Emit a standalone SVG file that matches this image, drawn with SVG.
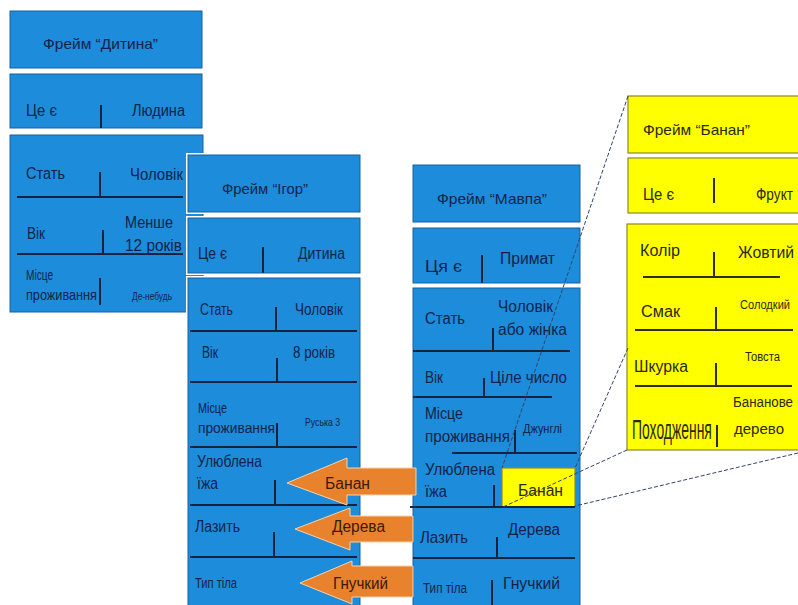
<svg xmlns="http://www.w3.org/2000/svg" width="798" height="605" viewBox="0 0 798 605">
  <defs>
    <style>
      .halo { fill: none; stroke: #ffffff; stroke-width: 4; }
      .box { fill: #1c8cdb; stroke: #1760a0; stroke-width: 1; }
      .ybox { fill: #ffff00; stroke: #8a8a2a; stroke-width: 1.2; }
      .div { stroke: #15233f; stroke-width: 2; fill: none; }
      .ydiv { stroke: #2e2e12; stroke-width: 2; fill: none; }
      text { font-family: "Liberation Sans Narrow", "Liberation Sans", Arial, sans-serif; font-size: 16px; }
      .t { fill: #13234a; }
      .ty { fill: #2a2a10; }
      .ta { fill: #3a1a08; }
      .ttl { font-size: 15px; }
      .md { font-size: 14px; }
      .sm { font-size: 11px; }
      .sm2 { font-size: 12px; }
      .big { font-size: 28px; }
      .arrow { fill: #e8822c; stroke: #f6d2ac; stroke-width: 1; }
      .link { stroke: #34446a; stroke-width: 1; stroke-dasharray: 4 2; fill: none; }
    </style>
  </defs>
  <rect width="798" height="605" fill="#ffffff"/>

  <!-- Frame "Дитина" -->
  <g id="frame-dytyna">
    <rect class="box" x="10" y="11" width="192" height="57"/>
    <rect class="box" x="10" y="74" width="192" height="54"/>
    <rect class="box" x="10" y="135" width="193" height="177"/>
    <path class="div" d="M101 105V128 M17 197H183 M100 172V197 M17 254H183 M103 230V254 M100 278V305"/>
    <text class="t ttl" x="43" y="49" textLength="115" lengthAdjust="spacingAndGlyphs">Фрейм “Дитина”</text>
    <text class="t" x="26" y="116" textLength="31" lengthAdjust="spacingAndGlyphs">Це є</text>
    <text class="t" x="132" y="116" textLength="53" lengthAdjust="spacingAndGlyphs">Людина</text>
    <text class="t" x="26" y="179" textLength="39" lengthAdjust="spacingAndGlyphs">Стать</text>
    <text class="t" x="130" y="180" textLength="53" lengthAdjust="spacingAndGlyphs">Чоловік</text>
    <text class="t" x="27" y="239" textLength="18" lengthAdjust="spacingAndGlyphs">Вік</text>
    <text class="t" x="125" y="228" textLength="48" lengthAdjust="spacingAndGlyphs">Менше</text>
    <text class="t" x="125" y="251" textLength="57" lengthAdjust="spacingAndGlyphs">12 років</text>
    <text class="t md" x="26" y="280" textLength="27" lengthAdjust="spacingAndGlyphs">Місце</text>
    <text class="t md" x="26" y="300" textLength="71" lengthAdjust="spacingAndGlyphs">проживання</text>
    <text class="t sm" x="132" y="300" textLength="40" lengthAdjust="spacingAndGlyphs">Де-небудь</text>
  </g>

  <!-- Frame "Ігор" -->
  <g id="frame-ihor">
    <rect class="halo" x="188" y="155" width="172" height="57"/>
    <rect class="halo" x="188" y="218" width="172" height="55"/>
    <rect class="halo" x="188" y="278" width="172" height="330"/>
    <rect class="box" x="188" y="155" width="172" height="57"/>
    <rect class="box" x="188" y="218" width="172" height="55"/>
    <rect class="box" x="188" y="278" width="172" height="330"/>
    <path class="div" d="M263 247V273 M190 331H357 M276 307V331 M190 382H357 M277 358V382 M190 447H357 M277 423V447 M190 505H357 M275 480V505 M190 557H357 M274 532V557"/>
    <text class="t ttl" x="222" y="194" textLength="86" lengthAdjust="spacingAndGlyphs">Фрейм “Ігор”</text>
    <text class="t" x="198" y="259" textLength="29" lengthAdjust="spacingAndGlyphs">Це є</text>
    <text class="t" x="298" y="259" textLength="47" lengthAdjust="spacingAndGlyphs">Дитина</text>
    <text class="t" x="200" y="315" textLength="33" lengthAdjust="spacingAndGlyphs">Стать</text>
    <text class="t" x="295" y="315" textLength="48" lengthAdjust="spacingAndGlyphs">Чоловік</text>
    <text class="t" x="202" y="358" textLength="16" lengthAdjust="spacingAndGlyphs">Вік</text>
    <text class="t" x="293" y="358" textLength="42" lengthAdjust="spacingAndGlyphs">8 років</text>
    <text class="t md" x="198" y="413" textLength="29" lengthAdjust="spacingAndGlyphs">Місце</text>
    <text class="t md" x="198" y="433" textLength="77" lengthAdjust="spacingAndGlyphs">проживання</text>
    <text class="t sm" x="305" y="426" textLength="35" lengthAdjust="spacingAndGlyphs">Руська 3</text>
    <text class="t" x="197" y="467" textLength="65" lengthAdjust="spacingAndGlyphs">Улюблена</text>
    <text class="t" x="197" y="489" textLength="21" lengthAdjust="spacingAndGlyphs">їжа</text>
    <text class="t" x="195" y="532" textLength="45" lengthAdjust="spacingAndGlyphs">Лазить</text>
    <text class="t md" x="195" y="588" textLength="42" lengthAdjust="spacingAndGlyphs">Тип тіла</text>
  </g>

  <!-- Frame "Мавпа" -->
  <g id="frame-mavpa">
    <rect class="box" x="413" y="165" width="167" height="57"/>
    <rect class="box" x="413" y="228" width="167" height="55"/>
    <rect class="box" x="413" y="288" width="167" height="320"/>
    <path class="div" d="M482 255V283 M413 351H570 M493 328V351 M413 397H552 M484 378V397 M452 453H577 M515 430V453 M494 485V507 M413 558H575 M497 537V558 M492 580V605"/>
    <rect class="ybox" x="502" y="468" width="73" height="39"/>
    <path class="div" d="M410 507H575"/>
    <text class="t ttl" x="437" y="204" textLength="110" lengthAdjust="spacingAndGlyphs">Фрейм “Мавпа”</text>
    <text class="t" x="425" y="272" textLength="37" lengthAdjust="spacingAndGlyphs">Ця є</text>
    <text class="t" x="500" y="264" textLength="55" lengthAdjust="spacingAndGlyphs">Примат</text>
    <text class="t" x="425" y="324" textLength="40" lengthAdjust="spacingAndGlyphs">Стать</text>
    <text class="t" x="498" y="312" textLength="55" lengthAdjust="spacingAndGlyphs">Чоловік</text>
    <text class="t" x="498" y="335" textLength="69" lengthAdjust="spacingAndGlyphs">або жінка</text>
    <text class="t" x="425" y="383" textLength="18" lengthAdjust="spacingAndGlyphs">Вік</text>
    <text class="t" x="490" y="383" textLength="77" lengthAdjust="spacingAndGlyphs">Ціле число</text>
    <text class="t" x="425" y="419" textLength="38" lengthAdjust="spacingAndGlyphs">Місце</text>
    <text class="t" x="425" y="442" textLength="85" lengthAdjust="spacingAndGlyphs">проживання</text>
    <text class="t sm2" x="523" y="433" textLength="39" lengthAdjust="spacingAndGlyphs">Джунглі</text>
    <text class="t" x="425" y="475" textLength="70" lengthAdjust="spacingAndGlyphs">Улюблена</text>
    <text class="t" x="425" y="497" textLength="22" lengthAdjust="spacingAndGlyphs">їжа</text>
    <text class="ty" x="518" y="496" textLength="45" lengthAdjust="spacingAndGlyphs">Банан</text>
    <text class="t" x="420" y="543" textLength="48" lengthAdjust="spacingAndGlyphs">Лазить</text>
    <text class="t" x="508" y="535" textLength="52" lengthAdjust="spacingAndGlyphs">Дерева</text>
    <text class="t md" x="423" y="593" textLength="44" lengthAdjust="spacingAndGlyphs">Тип тіла</text>
    <text class="t" x="503" y="589" textLength="57" lengthAdjust="spacingAndGlyphs">Гнучкий</text>
  </g>

  <!-- Frame "Банан" -->
  <g id="frame-banan">
    <rect class="ybox" x="628" y="96" width="176" height="57"/>
    <rect class="ybox" x="628" y="158" width="176" height="55"/>
    <rect class="ybox" x="627" y="224" width="177" height="226"/>
    <path class="ydiv" d="M714 178V203 M643 277H780 M714 252V277 M635 330H793 M716 307V330 M635 386H792 M716 363V386 M717 425V447"/>
    <text class="ty ttl" x="643" y="135" textLength="107" lengthAdjust="spacingAndGlyphs">Фрейм “Банан”</text>
    <text class="ty" x="643" y="200" textLength="31" lengthAdjust="spacingAndGlyphs">Це є</text>
    <text class="ty" x="756" y="200" textLength="37" lengthAdjust="spacingAndGlyphs">Фрукт</text>
    <text class="ty" x="640" y="256" textLength="40" lengthAdjust="spacingAndGlyphs">Колір</text>
    <text class="ty" x="738" y="258" textLength="56" lengthAdjust="spacingAndGlyphs">Жовтий</text>
    <text class="ty sm2" x="740" y="309" textLength="50" lengthAdjust="spacingAndGlyphs">Солодкий</text>
    <text class="ty" x="641" y="317" textLength="39" lengthAdjust="spacingAndGlyphs">Смак</text>
    <text class="ty" x="634" y="372" textLength="54" lengthAdjust="spacingAndGlyphs">Шкурка</text>
    <text class="ty sm2" x="745" y="361" textLength="35" lengthAdjust="spacingAndGlyphs">Товста</text>
    <!-- tall condensed label: drawn wide, then squeezed horizontally -->
    <text class="ty big" transform="translate(632 439) scale(0.49 1)" x="0" y="0" textLength="163" lengthAdjust="spacingAndGlyphs">Походження</text>
    <text class="ty md" x="733" y="407" textLength="60" lengthAdjust="spacingAndGlyphs">Бананове</text>
    <text class="ty md" x="734" y="434" textLength="50" lengthAdjust="spacingAndGlyphs">дерево</text>
  </g>

  <!-- Connectors: inheritance arrows and zoom-out guide lines -->
  <g id="connectors">
    <polygon class="arrow" points="287,483 347,458 347,468 416,468 416,495 347,495 347,505"/>
    <polygon class="arrow" points="295,529 350,508 350,516 413,516 413,542 350,542 350,550"/>
    <polygon class="arrow" points="300,583 352,561 352,566 413,566 413,597 352,597 352,604"/>
    <text class="ta" x="325" y="489" textLength="45" lengthAdjust="spacingAndGlyphs">Банан</text>
    <text class="ta" x="332" y="532" textLength="53" lengthAdjust="spacingAndGlyphs">Дерева</text>
    <text class="ta" x="333" y="589" textLength="55" lengthAdjust="spacingAndGlyphs">Гнучкий</text>
    <path class="link" d="M628 96L502 468 M628 348L575 468 M627 450L503 507 M798 453L575 506"/>
  </g>
</svg>
